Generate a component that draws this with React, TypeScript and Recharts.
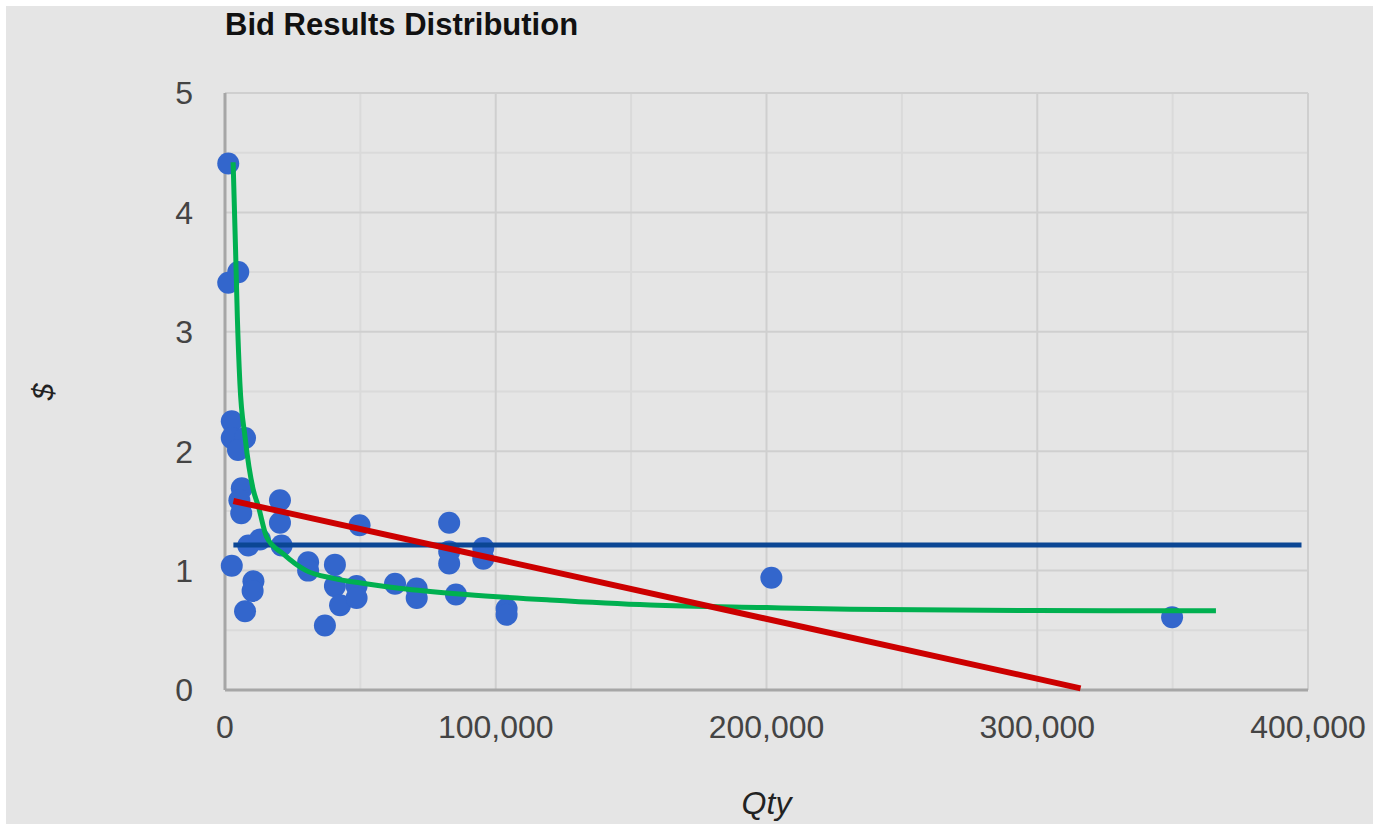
import {
  CartesianGrid,
  Scatter,
  ScatterChart,
  XAxis,
  YAxis,
} from "recharts";

// bid results: quantity vs unit price
const bidQty = [
  1200, 1200, 4900, 2500, 2500, 7400, 4800, 6200, 5300, 6000, 20300, 20300,
  8600, 12900, 20900, 2500, 10500, 10200, 7400, 30700, 30700, 40600, 40600,
  42500, 36900, 48600, 48600, 49700, 62800, 70800, 70800, 82800, 82800, 82800,
  95400, 95400, 85300, 104000, 104000, 201800, 349800,
];
const bidPrice = [
  4.41, 3.41, 3.5, 2.25, 2.11, 2.11, 2.01, 1.69, 1.59, 1.48, 1.59, 1.4, 1.21,
  1.26, 1.21, 1.04, 0.91, 0.83, 0.66, 1.07, 1.0, 1.05, 0.87, 0.71, 0.54, 0.87,
  0.77, 1.38, 0.89, 0.85, 0.77, 1.4, 1.16, 1.06, 1.19, 1.1, 0.8, 0.68, 0.63,
  0.94, 0.61,
];

// average price (horizontal)
const avgQty = [3100, 397600];
const avgPrice = [1.214, 1.214];

// linear trend
const linQty = [3100, 316000];
const linPrice = [1.583, 0.014];

// curved trend
const curveQty = [
  3000, 3900, 4550, 5500, 7400, 10400, 12300, 15400, 21500, 30000, 40000,
  52000, 65000, 89000, 120000, 157000, 200000, 231000, 300000, 366000,
];
const curvePrice = [
  4.42, 3.69, 3.13, 2.57, 2.12, 1.68, 1.54, 1.28, 1.14, 1.0, 0.935, 0.89, 0.85,
  0.8, 0.754, 0.712, 0.69, 0.676, 0.665, 0.664,
];

const xTicks = [0, 100000, 200000, 300000, 400000];
const yTicks = [0, 1, 2, 3, 4, 5];
const xMinor = [50000, 150000, 250000, 350000];
const yMinor = [0.5, 1.5, 2.5, 3.5, 4.5];

const pairs = (xs: number[], ys: number[]) =>
  xs.map((x, i) => ({ x, y: ys[i] }));

const bids = pairs(bidQty, bidPrice);
const avg = pairs(avgQty, avgPrice);
const lin = pairs(linQty, linPrice);
const curve = pairs(curveQty, curvePrice);

const font = "Arial, 'Liberation Sans', sans-serif";
const tickStyle = { fill: "#444", fontSize: 32, fontFamily: font };

const Dot = (p: any) => <circle cx={p.cx} cy={p.cy} r={11} fill="#3366cc" />;
const NoDot = () => <g />;

export default function App() {
  return (
    <div
      style={{
        position: "absolute",
        left: 6,
        top: 6,
        width: 1367,
        height: 818,
        background: "#e5e5e5",
        overflow: "hidden",
        fontFamily: font,
      }}
    >
      <div
        style={{
          position: "absolute",
          left: 219,
          top: 3,
          fontSize: 31,
          lineHeight: "31px",
          fontWeight: "bold",
          color: "#111",
        }}
      >
        Bid Results Distribution
      </div>
      <div
        style={{
          position: "absolute",
          left: 22,
          top: 368,
          width: 30,
          height: 36,
          fontSize: 30,
          lineHeight: "36px",
          fontStyle: "italic",
          textAlign: "center",
          color: "#222",
          transform: "rotate(-90deg)",
        }}
      >
        $
      </div>
      <ScatterChart
        width={1367}
        height={818}
        margin={{ top: 87, right: 65, bottom: 0, left: 0 }}
      >
        <CartesianGrid
          stroke="#dadada"
          strokeWidth={2}
          horizontalValues={yMinor}
          verticalValues={xMinor}
        />
        <CartesianGrid stroke="#cfcfcf" strokeWidth={2} />
        <XAxis
          type="number"
          dataKey="x"
          domain={[0, 400000]}
          ticks={xTicks}
          tickFormatter={(v: number) => v.toLocaleString("en-US")}
          tick={tickStyle}
          tickLine={false}
          tickSize={0}
          tickMargin={25}
          axisLine={{ stroke: "#a6a6a6", strokeWidth: 3 }}
          height={134}
          interval={0}
          label={{
            value: "Qty",
            position: "insideBottom",
            offset: 10,
            fill: "#222",
            fontSize: 32,
            fontStyle: "italic",
            fontFamily: font,
          }}
        />
        <YAxis
          type="number"
          dataKey="y"
          domain={[0, 5]}
          ticks={yTicks}
          tick={tickStyle}
          tickLine={false}
          tickSize={0}
          tickMargin={32}
          axisLine={{ stroke: "#a6a6a6", strokeWidth: 3 }}
          width={219}
          interval={0}
        />
        <Scatter data={bids} shape={Dot} isAnimationActive={false} />
        <Scatter
          data={avg}
          shape={NoDot}
          line={{ stroke: "#0b4694", strokeWidth: 5 }}
          isAnimationActive={false}
        />
        <Scatter
          data={curve}
          shape={NoDot}
          line={{ stroke: "#00b050", strokeWidth: 5, fill: "none" }}
          lineJointType="monotoneX"
          isAnimationActive={false}
        />
        <Scatter
          data={lin}
          shape={NoDot}
          line={{ stroke: "#cc0000", strokeWidth: 6 }}
          isAnimationActive={false}
        />
      </ScatterChart>
    </div>
  );
}
